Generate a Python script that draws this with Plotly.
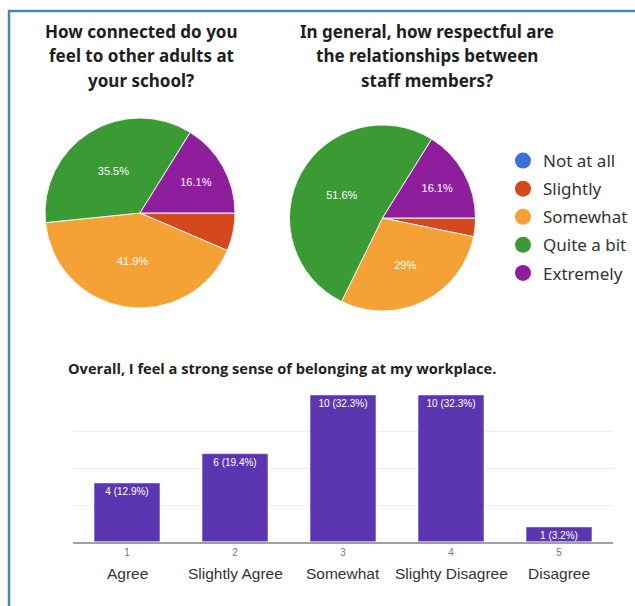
import plotly.graph_objects as go

W, H = 635, 606

# ---- data ----
pie_labels = ["Not at all", "Slightly", "Somewhat", "Quite a bit", "Extremely"]
pie_colors = ["#3D6FD8", "#D4481D", "#F4A236", "#3A9A34", "#8E1E9C"]
pie1_title = ["How connected do you", "feel to other adults at", "your school?"]
pie1_values = [0, 2, 13, 11, 5]
pie2_title = ["In general, how respectful are", "the relationships between", "staff members?"]
pie2_values = [0, 1, 9, 16, 5]

bar_title = "Overall, I feel a strong sense of belonging at my workplace."
bar_ticks = [1, 2, 3, 4, 5]
bar_names = ["Agree", "Slightly Agree", "Somewhat", "Slighty Disagree", "Disagree"]
bar_counts = [4, 6, 10, 10, 1]


def px_x(p):
    return p / W


def px_y(p):
    return 1 - p / H


def pct_text(values, min_share=0.1):
    tot = sum(values)
    out = []
    for v in values:
        share = v / tot
        out.append(f"{round(share * 100, 1):g}%" if share >= min_share else "")
    return out


fig = go.Figure()

pie_common = dict(
    labels=pie_labels,
    marker=dict(colors=pie_colors, line=dict(color="#f4f4f4", width=1)),
    sort=False,
    direction="clockwise",
    rotation=90,
    textinfo="text",
    textposition="inside",
    insidetextorientation="horizontal",
    textfont=dict(family="Liberation Sans, Arial", size=11, color="white"),
    showlegend=False,
    hoverinfo="label+value+percent",
)

fig.add_trace(go.Pie(values=pie1_values, text=pct_text(pie1_values),
                     domain=dict(x=[px_x(45), px_x(235)], y=[px_y(308), px_y(118)]),
                     **pie_common))
fig.add_trace(go.Pie(values=pie2_values, text=pct_text(pie2_values),
                     domain=dict(x=[px_x(289.5), px_x(475.5)], y=[px_y(311), px_y(125)]),
                     **pie_common))

# legend entries (circle markers)
for lab, col in zip(pie_labels, pie_colors):
    fig.add_trace(go.Scatter(x=[None], y=[None], mode="markers", name=lab,
                             marker=dict(color=col, size=16, symbol="circle"),
                             xaxis="x", yaxis="y", legendgroup=lab, showlegend=True))

# bar chart
fig.add_trace(go.Bar(
    x=bar_ticks, y=bar_counts,
    text=[f"{c} ({round(c / sum(bar_counts) * 100, 1):g}%)" for c in bar_counts],
    textposition="inside", insidetextanchor="end",
    textfont=dict(family="Liberation Sans, Arial", size=10, color="white"),
    marker=dict(color="#5C36B0"),
    showlegend=False,
    cliponaxis=False,
))

fig.update_layout(
    width=W, height=H,
    margin=dict(l=0, r=0, t=0, b=0),
    paper_bgcolor="white", plot_bgcolor="white",
    font=dict(family="Noto Sans, Liberation Sans, Arial", color="#222"),
    uniformtext=dict(minsize=8, mode="show"),
    xaxis=dict(domain=[px_x(73), px_x(613)], range=[0.5, 5.5],
               tickvals=bar_ticks, ticktext=[str(t) for t in bar_ticks],
               tickfont=dict(family="Liberation Sans, Arial", size=10, color="#777"),
               showgrid=False, showline=True, linecolor="#a0a0a0", linewidth=2,
               ticks="", ticklen=0, zeroline=False, fixedrange=True),
    yaxis=dict(domain=[px_y(541.7), px_y(395)], range=[0, 10],
               dtick=2.5, showticklabels=False, gridcolor="#ececec", gridwidth=1,
               zeroline=False, showline=False, fixedrange=True),
    legend=dict(x=px_x(503), y=px_y(143), xanchor="left", yanchor="top",
                font=dict(family="Noto Sans, Open Sans, Arial", size=17, color="#333"),
                itemsizing="trace", tracegroupgap=3, bgcolor="rgba(0,0,0,0)"),
    bargap=0.39,
)

annotations = []
for lines, cx in ((pie1_title, 141), (pie2_title, 427)):
    for i, line in enumerate(lines):
        annotations.append(dict(text=line, x=px_x(cx), y=px_y(31 + 24.7 * i),
                                xref="paper", yref="paper", xanchor="center",
                                yanchor="middle", showarrow=False,
                                font=dict(family="Noto Sans", size=17, color="#1e1e1e",
                                          weight="bold")))
annotations.append(dict(text=bar_title, x=px_x(66), y=px_y(368), xref="paper", yref="paper",
                        xanchor="left", yanchor="middle", showarrow=False,
                        font=dict(family="Open Sans", size=14.6, color="#222", weight="bold")))
for t, name in zip(bar_ticks, bar_names):
    annotations.append(dict(text=name, x=t, y=px_y(573), xref="x", yref="paper",
                            xanchor="center", yanchor="middle", showarrow=False,
                            font=dict(family="Liberation Sans, Arial", size=15.5, color="#333")))
fig.update_layout(annotations=annotations)

# frame lines
fig.add_shape(type="line", xref="paper", yref="paper", x0=px_x(8), x1=1.0,
              y0=px_y(11), y1=px_y(11), line=dict(color="#4A87A8", width=2.5))
fig.add_shape(type="line", xref="paper", yref="paper", x0=px_x(9), x1=px_x(9),
              y0=px_y(10), y1=0, line=dict(color="#4A87A8", width=2.5))

fig.write_html("out.html", config={"displayModeBar": False},
               post_script="document.body.style.margin='0px';")
